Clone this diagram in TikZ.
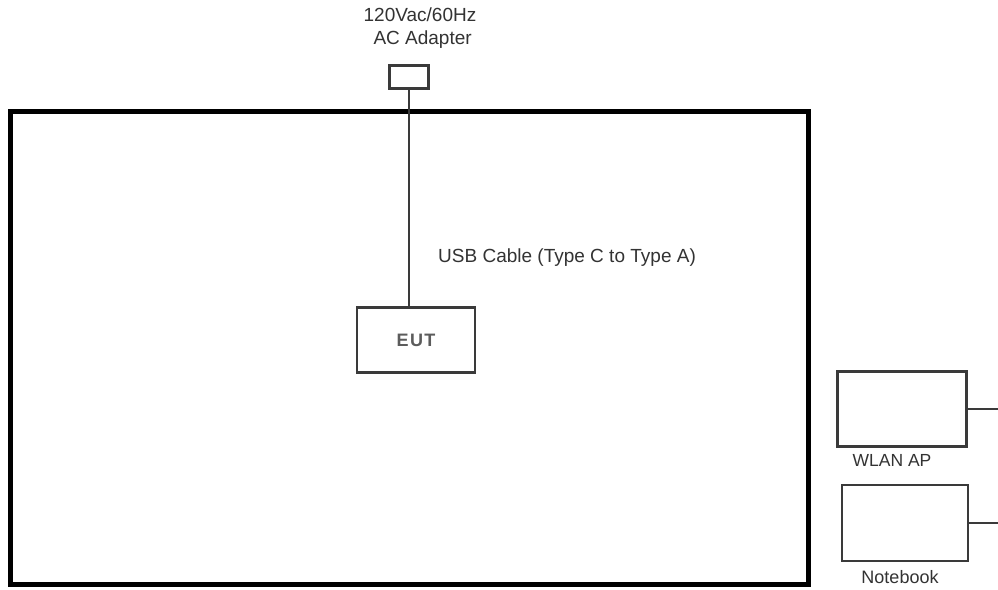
\documentclass[tikz,border=0pt]{standalone}
\usepackage{fontspec}
\setmainfont{Liberation Sans}
\usetikzlibrary{positioning}

\definecolor{linegray}{HTML}{3A3A3A}
\definecolor{textgray}{HTML}{333333}

\tikzset{
  unit/.style={draw=linegray,line width=2.2pt,inner sep=0pt,fill=white},
  cable/.style={draw=linegray,line width=2pt},
  lbl/.style={text=textgray,inner sep=0pt,font=\fontsize{19}{23}\selectfont}
}

\begin{document}
\begin{tikzpicture}[x=1pt,y=-1pt]
  \useasboundingbox[fill=white] (0,0) rectangle (998,589);

  % Test site outline
  \draw[black,line width=5pt] (10,111) rectangle (808,584);

  % AC adapter and its labels
  \node[unit,minimum width=39pt,minimum height=23pt] (adapter) at (409,77) {};
  \node[lbl,align=center] (acname) at (420,28) {120Vac/60Hz\\ \ AC Adapter};

  % Equipment under test
  \node[unit,minimum width=118pt,minimum height=65pt,
        font=\fontsize{18}{20}\selectfont\bfseries,text=textgray!80] (eut) at (416,340)
        {E\kern1.5pt U\kern1.5pt T};

  % USB cable from adapter to EUT
  \coordinate (eutin) at (adapter.south |- eut.north);
  \draw[cable] (adapter.south) -- (eutin);
  \node[lbl,anchor=west] (usb) at (438,258) {USB Cable (Type C to Type A)};

  % Support equipment outside
  \node[unit,minimum width=129pt,minimum height=75pt] (wlan) at (902,409) {};
  \node[lbl,font=\fontsize{17.5}{20}\selectfont] (wlanname) at (892,460) {WLAN AP};
  \node[unit,minimum width=126pt,minimum height=76pt] (notebook) at (905,523) {};
  \node[lbl,font=\fontsize{18}{20}\selectfont] (notebookname) at (900,577) {Notebook};

  % Cables leaving to the right
  \coordinate (rightedge) at (998,0);
  \coordinate (wlanout) at (wlan.east -| rightedge);
  \coordinate (nbout) at (notebook.east -| rightedge);
  \draw[cable] (wlan.east) -- (wlanout);
  \draw[cable] (notebook.east) -- (nbout);
\end{tikzpicture}
\end{document}
